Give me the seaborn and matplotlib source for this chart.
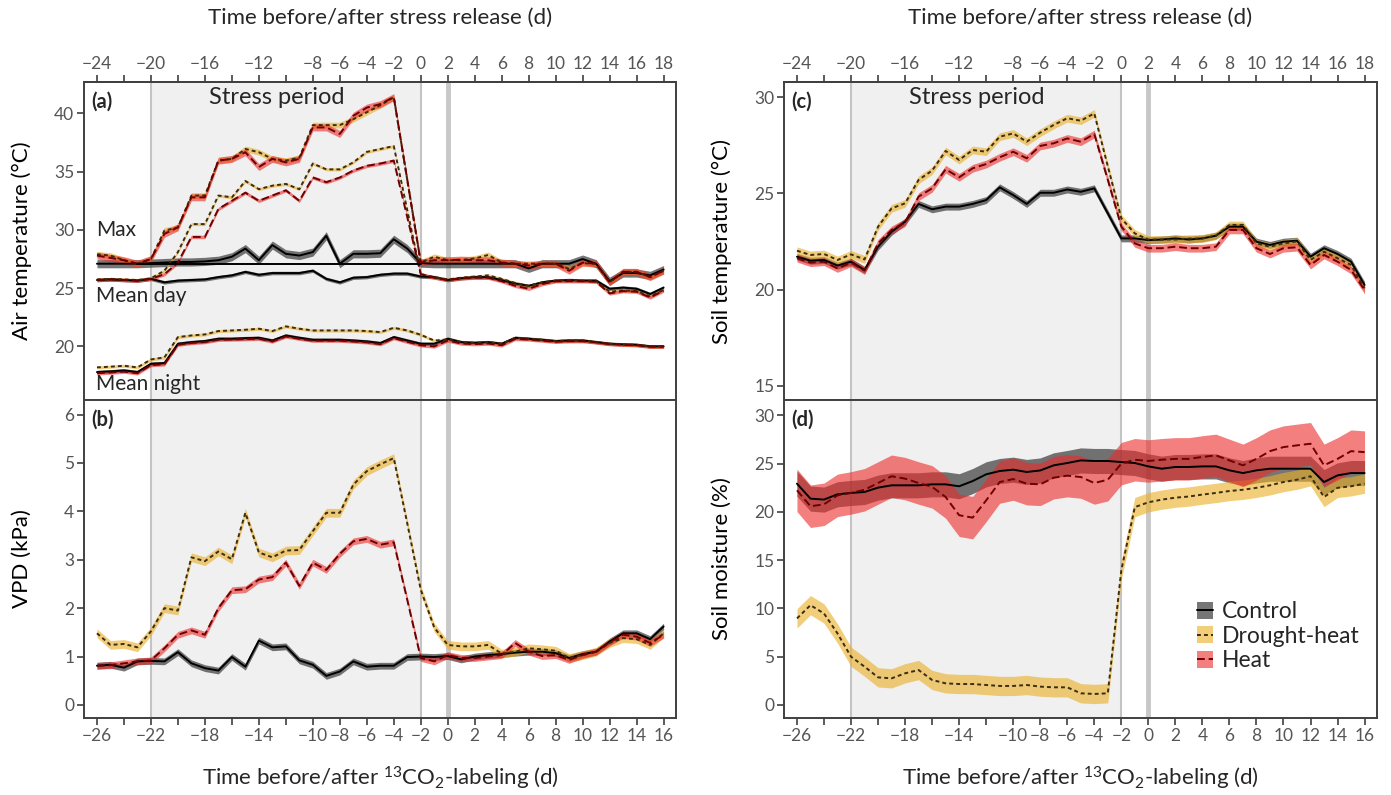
import numpy as np
import pandas as pd
import matplotlib
matplotlib.use("Agg")
import matplotlib.pyplot as plt
import seaborn as sns
from matplotlib.patches import Patch
from matplotlib.lines import Line2D

days = list(range(-26, 17))
treatments = ["Control", "Drought-heat", "Heat"]

# (a) air temperature (deg C): max, mean day, mean night
a_max_ctrl = [27.1, 27.1, 27.1, 27.1, 27.15, 27.2, 27.25, 27.25, 27.3, 27.4,
              27.7, 28.4, 27.4, 28.7, 27.95, 27.8, 28.1, 29.5, 27.1, 27.95,
              27.95, 28.0, 29.2, 28.4, 27.15, 27.1, 27.1, 27.1, 27.1, 27.1,
              27.1, 27.1, 26.7, 27.1, 27.1, 27.1, 27.5, 27.1, 25.6, 26.3, 26.3, 26.1, 26.6]
a_max_dh = [27.9, 27.8, 27.4, 27.1, 27.5, 29.95, 30.2, 32.95, 32.95, 35.95,
            36.1, 36.95, 36.67, 36.1, 35.95, 36.2, 39.0, 39.0, 39.0, 39.5,
            40.1, 40.7, 41.4, 34.3, 27.2, 27.7, 27.4, 27.4, 27.55, 27.85,
            27.2, 27.1, 27.1, 27.1, 27.1, 26.65, 27.15, 27.1, 25.5, 26.4, 26.4, 25.95, 26.5]
a_max_heat = [27.8, 27.6, 27.4, 27.1, 27.5, 29.66, 30.23, 32.8, 32.8, 35.95,
              36.1, 36.67, 35.4, 36.1, 35.8, 36.1, 38.8, 38.8, 38.24, 39.8,
              40.5, 40.8, 41.4, 34.3, 27.2, 27.4, 27.4, 27.45, 27.4, 27.4,
              27.2, 27.1, 26.95, 27.1, 27.1, 26.5, 27.2, 27.1, 25.5, 26.4, 26.4, 25.95, 26.5]
a_floor_days = list(range(-23, -1))
a_max_floor = [27.1, 27.1, 27.1, 27.1, 27.1, 27.1, 27.1, 27.1, 27.1, 27.1, 27.1,
               27.1, 27.1, 27.1, 27.1, 27.1, 27.1, 27.1, 27.1, 27.1, 27.1, 27.1]
a_day_ctrl = [25.7, 25.75, 25.7, 25.65, 25.8, 25.5, 25.65, 25.7, 25.75, 25.95,
              26.1, 26.4, 26.15, 26.3, 26.3, 26.3, 26.5, 25.8, 25.5, 25.9,
              25.95, 26.15, 26.25, 26.25, 26.0, 25.95, 25.7, 25.85, 25.95, 25.95,
              25.7, 25.4, 25.2, 25.5, 25.65, 25.7, 25.65, 25.65, 24.95, 25.05, 24.95, 24.5, 25.05]
a_day_dh = [25.75, 25.8, 25.75, 25.7, 25.85, 26.5, 28.1, 30.5, 30.5, 32.95,
            32.8, 34.2, 33.5, 33.8, 33.95, 33.5, 35.7, 35.2, 35.2, 35.8,
            36.7, 36.95, 37.2, 31.7, 26.2, 25.95, 25.75, 25.9, 26.0, 26.1,
            25.8, 25.45, 25.2, 25.5, 25.65, 25.7, 25.65, 25.6, 24.7, 24.8, 24.75, 24.3, 24.85]
a_day_heat = [25.7, 25.75, 25.7, 25.65, 25.8, 26.2, 27.2, 29.4, 29.4, 31.8,
              32.5, 33.2, 32.5, 32.95, 33.4, 32.5, 34.5, 34.1, 34.5, 35.1,
              35.5, 35.7, 35.95, 31.1, 26.2, 25.9, 25.7, 25.85, 25.9, 25.9,
              25.6, 25.2, 24.95, 25.35, 25.6, 25.6, 25.6, 25.55, 24.55, 24.75, 24.7, 24.2, 24.8]
a_night_ctrl = [17.8, 17.86, 17.94, 17.8, 18.51, 18.57, 20.23, 20.37, 20.46, 20.66,
                20.66, 20.71, 20.74, 20.51, 20.94, 20.74, 20.57, 20.57, 20.57, 20.51,
                20.43, 20.29, 20.8, 20.51, 20.23, 20.23, 20.66, 20.37, 20.31, 20.37,
                20.23, 20.74, 20.66, 20.57, 20.46, 20.51, 20.51, 20.37, 20.23, 20.17, 20.14, 20.0, 20.0]
a_night_dh = [18.2, 18.26, 18.34, 18.2, 18.88, 19.06, 20.8, 20.94, 21.03, 21.32,
              21.37, 21.43, 21.52, 21.32, 21.72, 21.52, 21.37, 21.37, 21.37, 21.37,
              21.32, 21.23, 21.6, 21.37, 21.0, 20.5, 20.6, 20.37, 20.31, 20.37,
              20.23, 20.74, 20.66, 20.57, 20.46, 20.51, 20.51, 20.37, 20.23, 20.17, 20.14, 20.0, 20.0]
a_night_heat = [17.7, 17.76, 17.84, 17.7, 18.4, 18.47, 20.15, 20.3, 20.38, 20.58,
                20.6, 20.63, 20.66, 20.43, 20.86, 20.66, 20.5, 20.5, 20.5, 20.43,
                20.36, 20.2, 20.72, 20.4, 20.1, 20.0, 20.5, 20.25, 20.2, 20.25,
                20.1, 20.65, 20.6, 20.5, 20.4, 20.45, 20.45, 20.35, 20.2, 20.15, 20.1, 19.98, 19.98]

# (b) VPD (kPa)
b_ctrl = [0.81, 0.83, 0.77, 0.9, 0.91, 0.9, 1.09, 0.86, 0.76, 0.71,
          0.99, 0.79, 1.33, 1.19, 1.21, 0.92, 0.83, 0.6, 0.69, 0.9,
          0.79, 0.81, 0.81, 0.99, 1.0, 0.99, 1.01, 0.94, 1.0, 1.03,
          1.05, 1.08, 1.1, 1.1, 1.07, 0.97, 1.05, 1.1, 1.31, 1.48, 1.48, 1.36, 1.62]
b_dh = [1.48, 1.24, 1.26, 1.19, 1.52, 2.0, 1.95, 3.05, 2.97, 3.17,
        3.01, 3.97, 3.15, 3.05, 3.19, 3.2, 3.59, 3.97, 3.97, 4.55,
        4.83, 4.97, 5.1, 3.75, 2.38, 1.6, 1.24, 1.21, 1.21, 1.24,
        1.06, 1.1, 1.17, 1.15, 1.12, 0.97, 1.03, 1.1, 1.28, 1.38, 1.36, 1.24, 1.48]
b_heat = [0.81, 0.82, 0.86, 0.9, 0.92, 1.17, 1.45, 1.54, 1.45, 2.0,
          2.37, 2.39, 2.59, 2.64, 2.94, 2.46, 2.94, 2.79, 3.12, 3.38,
          3.43, 3.31, 3.36, 2.17, 0.97, 0.9, 1.03, 0.97, 0.97, 1.0,
          1.03, 1.28, 1.1, 1.01, 1.03, 0.93, 1.03, 1.1, 1.29, 1.45, 1.41, 1.28, 1.45]

# (c) soil temperature (deg C)
c_ctrl = [21.71, 21.5, 21.54, 21.25, 21.45, 21.02, 22.23, 23.0, 23.53, 24.45,
          24.17, 24.31, 24.31, 24.45, 24.65, 25.31, 24.91, 24.45, 25.03, 25.03,
          25.2, 25.08, 25.26, 23.96, 22.66, 22.66, 22.57, 22.6, 22.66, 22.6,
          22.66, 22.8, 23.27, 23.27, 22.49, 22.32, 22.49, 22.54, 21.71, 22.15, 21.85, 21.45, 20.24]
c_dh = [22.02, 21.8, 21.85, 21.54, 21.83, 21.57, 23.27, 24.22, 24.48, 25.7,
        26.18, 27.2, 26.73, 27.25, 27.16, 27.94, 28.11, 27.68, 28.15, 28.55,
        28.9, 28.77, 29.15, 26.4, 23.7, 22.92, 22.6, 22.6, 22.6, 22.65,
        22.65, 22.8, 23.36, 23.36, 22.4, 22.23, 22.4, 22.5, 21.54, 21.97, 21.63, 21.28, 20.07]
c_heat = [21.63, 21.4, 21.45, 21.1, 21.4, 20.99, 22.4, 23.1, 23.48, 24.83,
          25.26, 26.25, 25.83, 26.3, 26.52, 26.87, 27.16, 26.82, 27.46, 27.6,
          27.85, 27.68, 28.08, 25.7, 23.27, 22.4, 22.15, 22.15, 22.23, 22.15,
          22.15, 22.23, 23.1, 23.1, 22.15, 21.85, 22.15, 22.2, 21.28, 21.8, 21.45, 21.02, 19.98]

# (d) soil moisture (%)
d_ctrl = [22.93, 21.38, 21.28, 21.83, 21.97, 22.07, 22.52, 22.76, 22.76, 22.76,
          22.86, 22.86, 22.66, 23.2, 23.9, 24.24, 24.38, 24.14, 24.3, 24.83,
          25.07, 25.34, 25.28, 25.28, 25.17, 25.07, 24.72, 24.48, 24.66, 24.66,
          24.72, 24.72, 24.31, 24.03, 24.31, 24.48, 24.48, 24.48, 24.48, 23.1, 23.79, 24.03, 24.03]
d_dh = [8.97, 10.34, 9.48, 7.41, 5.0, 3.97, 2.86, 2.76, 3.28, 3.62,
        2.59, 2.24, 2.17, 2.17, 2.07, 1.97, 1.97, 2.07, 1.9, 1.83,
        1.83, 1.21, 1.14, 1.21, 13.97, 20.5, 21.0, 21.28, 21.48, 21.6,
        21.8, 21.97, 22.17, 22.3, 22.5, 22.76, 23.1, 23.34, 23.7, 21.55, 22.5, 22.66, 22.93]
d_heat = [22.24, 20.59, 20.79, 21.72, 21.97, 22.3, 23.0, 23.7, 23.45, 23.0,
          22.6, 21.55, 19.66, 19.41, 21.2, 23.1, 23.41, 22.93, 22.86, 23.55,
          23.76, 23.62, 23.0, 23.34, 25.0, 25.41, 25.28, 25.41, 25.5, 25.5,
          25.7, 25.86, 25.34, 24.83, 25.5, 26.3, 26.72, 26.9, 27.07, 24.83, 25.5, 26.3, 26.2]

# half widths of the shaded bands
se_a_max = {"Control": 0.35, "Drought-heat": 0.25, "Heat": 0.3}
se_a_mean = {"Control": 0.15, "Drought-heat": 0.13, "Heat": 0.15}
se_b = {"Control": 0.07, "Drought-heat": 0.09, "Heat": 0.07}
se_c = {"Control": 0.18, "Drought-heat": 0.2, "Heat": 0.2}
se_d = {"Control": 1.3, "Drought-heat": 1.0, "Heat": 2.2}

bottom_ticks = list(range(-26, 17, 2))
bottom_labels = ["\u221226", "", "\u221222", "", "\u221218", "", "\u221214", "", "\u221210",
                 "\u22128", "\u22126", "\u22124", "\u22122", "0", "2", "4", "6", "8",
                 "10", "12", "14", "16"]
top_ticks = list(range(-24, 19, 2))
top_labels = ["\u221224", "", "\u221220", "", "\u221216", "", "\u221212", "", "\u22128",
              "\u22126", "\u22124", "\u22122", "0", "2", "4", "6", "8", "10", "12",
              "14", "16", "18"]

band_col = {"Control": "#3c3c3c", "Drought-heat": "#ebaf28", "Heat": "#ee2a2a"}
band_alpha = {"Control": 0.7, "Drought-heat": 0.62, "Heat": 0.6}
line_col = {"Control": "#000000", "Drought-heat": "#3b2d10", "Heat": "#6e0000"}
line_dash = {"Control": "", "Drought-heat": (2, 1.6), "Heat": (4, 2)}

sns.set_theme(style="ticks")
plt.rcParams["font.family"] = ["Lato", "DejaVu Sans"]
plt.rcParams["mathtext.default"] = "regular"

fig = plt.figure(figsize=(13.91, 7.95), dpi=100)
W, H = 1391, 795
def box(x0, x1, y0, y1):
    return [x0 / W, 1 - y1 / H, (x1 - x0) / W, (y1 - y0) / H]

ax_a = fig.add_axes(box(84, 676, 82, 400))
ax_b = fig.add_axes(box(84, 676, 400, 718))
ax_c = fig.add_axes(box(784, 1377, 82, 400))
ax_d = fig.add_axes(box(784, 1377, 400, 718))

TICK = "#404040"
LAB = "#555555"
FS_TICK = 12.5
FS_LABEL = 16


def draw(ax, series, x=days):
    rows = []
    for name, trt, vals, se in series:
        v = np.array(vals, dtype=float)
        ax.fill_between(x, v - se, v + se, color=band_col[trt], alpha=band_alpha[trt],
                        lw=0, zorder=1 + treatments.index(trt) * 0.01)
        rows.append(pd.DataFrame({"day": x, "value": v, "treatment": trt, "series": name}))
    df = pd.concat(rows, ignore_index=True)
    sns.lineplot(data=df, x="day", y="value", hue="treatment", style="treatment",
                 units="series", estimator=None, hue_order=treatments, style_order=treatments,
                 palette=line_col, dashes=line_dash, lw=1.4, legend=False, ax=ax, zorder=3)


def frame(ax, ylim, yticks, ylabel):
    ax.axvspan(-22, -2, color="#f0f0f0", lw=0, zorder=0)
    ax.axvline(-22, color="#c4c4c4", lw=1.5, zorder=0.5)
    ax.axvline(-2, color="#c4c4c4", lw=1.5, zorder=0.5)
    ax.axvline(0, color="#c8c8c8", lw=3.5, zorder=0.5)
    ax.set_xlim(-26.96, 16.92)
    ax.set_ylim(*ylim)
    ax.set_yticks(yticks)
    ax.set_ylabel(ylabel, fontsize=FS_LABEL, color="black")
    ax.yaxis.set_label_coords(-0.105, 0.5)
    ax.yaxis.label.set_va("center")
    ax.set_xlabel("")
    for s in ax.spines.values():
        s.set_color(TICK)
        s.set_linewidth(1.4)
        s.set_visible(True)
    ax.tick_params(axis="both", direction="out", length=5, width=1.2, color=TICK,
                   labelcolor=LAB, labelsize=FS_TICK, pad=2)
    ax.set_xticks(bottom_ticks)


def top_axis(ax):
    sec = ax.secondary_xaxis("top", functions=(lambda v: v + 2, lambda v: v - 2))
    sec.set_xticks(top_ticks)
    sec.set_xticklabels(top_labels)
    sec.tick_params(direction="out", length=5, width=1.2, color=TICK, labelcolor=LAB,
                    labelsize=FS_TICK, pad=2)
    sec.spines["top"].set_color(TICK)
    ax.text(0.5, 1.201, "Time before/after stress release (d)", transform=ax.transAxes,
            fontsize=FS_LABEL, ha="center", va="center")
    ax.set_xticklabels([])


def bottom_axis(ax):
    ax.set_xticklabels(bottom_labels)
    ax.set_xlabel("Time before/after $^{13}$CO$_2$-labeling (d)", fontsize=FS_LABEL)
    ax.xaxis.set_label_coords(0.5, -0.19)
    ax.xaxis.label.set_va("center")


# (a)
frame(ax_a, (15.4, 42.7), [20, 25, 30, 35, 40], "Air temperature (\u00b0C)")
draw(ax_a, [
    ("c_max", "Control", a_max_ctrl, se_a_max["Control"]),
    ("d_max", "Drought-heat", a_max_dh, se_a_max["Drought-heat"]),
    ("h_max", "Heat", a_max_heat, se_a_max["Heat"]),
    ("c_day", "Control", a_day_ctrl, se_a_mean["Control"]),
    ("d_day", "Drought-heat", a_day_dh, se_a_mean["Drought-heat"]),
    ("h_day", "Heat", a_day_heat, se_a_mean["Heat"]),
    ("c_night", "Control", a_night_ctrl, se_a_mean["Control"]),
    ("d_night", "Drought-heat", a_night_dh, se_a_mean["Drought-heat"]),
    ("h_night", "Heat", a_night_heat, se_a_mean["Heat"]),
])
ax_a.plot(a_floor_days, a_max_floor, color="black", lw=1.4, zorder=3)
top_axis(ax_a)
ax_a.text(0.02, 0.535, "Max", transform=ax_a.transAxes, fontsize=15, va="center")
ax_a.text(0.02, 0.327, "Mean day", transform=ax_a.transAxes, fontsize=15, va="center")
ax_a.text(0.02, 0.05, "Mean night", transform=ax_a.transAxes, fontsize=15, va="center")

# (b)
frame(ax_b, (-0.27, 6.3), [0, 1, 2, 3, 4, 5, 6], "VPD (kPa)")
draw(ax_b, [
    ("c", "Control", b_ctrl, se_b["Control"]),
    ("d", "Drought-heat", b_dh, se_b["Drought-heat"]),
    ("h", "Heat", b_heat, se_b["Heat"]),
])
bottom_axis(ax_b)

# (c)
frame(ax_c, (14.27, 30.78), [15, 20, 25, 30], "Soil temperature (\u00b0C)")
draw(ax_c, [
    ("c", "Control", c_ctrl, se_c["Control"]),
    ("d", "Drought-heat", c_dh, se_c["Drought-heat"]),
    ("h", "Heat", c_heat, se_c["Heat"]),
])
top_axis(ax_c)

# (d)
frame(ax_d, (-1.35, 31.6), [0, 5, 10, 15, 20, 25, 30], "Soil moisture (%)")
draw(ax_d, [
    ("c", "Control", d_ctrl, se_d["Control"]),
    ("d", "Drought-heat", d_dh, se_d["Drought-heat"]),
    ("h", "Heat", d_heat, se_d["Heat"]),
])
bottom_axis(ax_d)

for ax, lab in zip([ax_a, ax_b, ax_c, ax_d], ["(a)", "(b)", "(c)", "(d)"]):
    ax.text(0.012, 0.97, lab, transform=ax.transAxes, fontsize=14.5, fontweight="bold",
            va="top", ha="left")
for ax in [ax_a, ax_c]:
    ax.text(-12.7, 0.952, "Stress period", transform=ax.get_xaxis_transform(),
            fontsize=17, ha="center", va="center")

handles = []
for t in treatments:
    ln = Line2D([], [], color=line_col[t], lw=1.4)
    if line_dash[t]:
        ln.set_dashes(line_dash[t])
    handles.append((Patch(facecolor=band_col[t], alpha=band_alpha[t], lw=0), ln))
ax_d.legend(handles, treatments, loc="upper left", bbox_to_anchor=(0.697, 0.367),
            frameon=False, fontsize=16.5, handlelength=0.7, handleheight=0.75,
            handletextpad=0.35, labelspacing=0.15, borderpad=0, borderaxespad=0)

fig.savefig("out.png", dpi=100)
